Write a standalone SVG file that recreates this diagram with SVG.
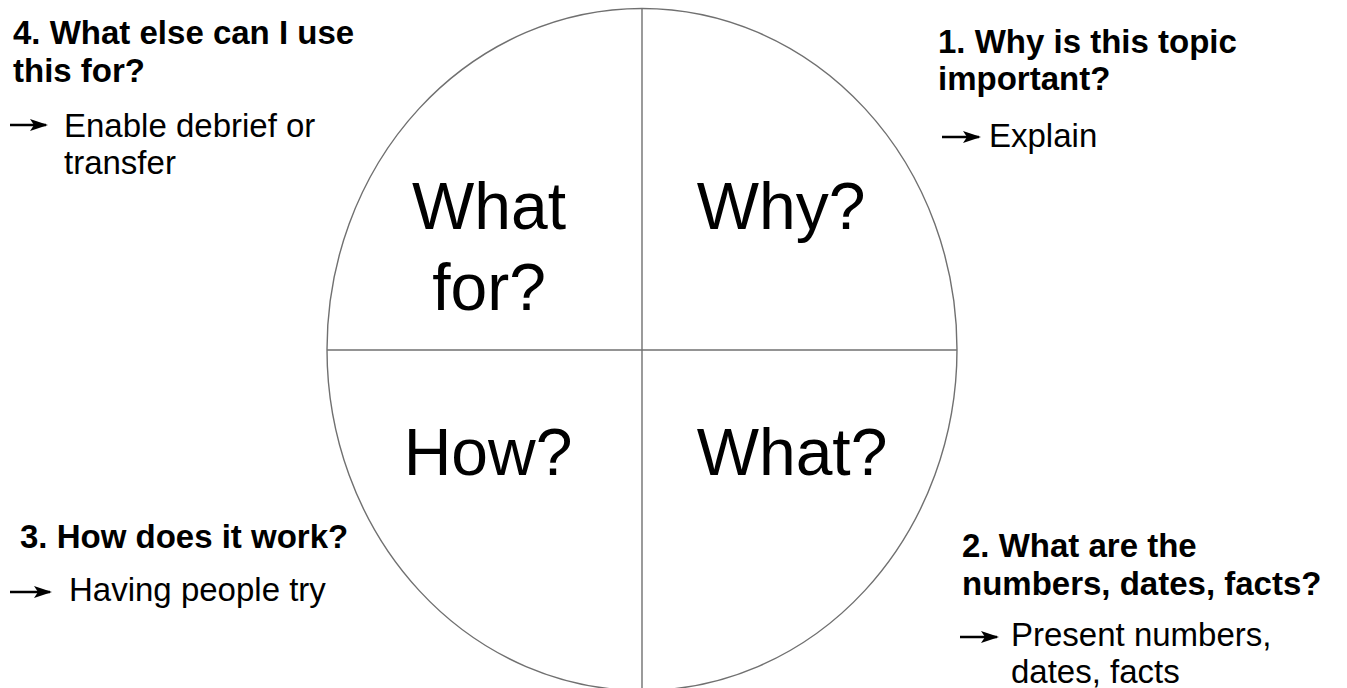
<svg xmlns="http://www.w3.org/2000/svg" width="1347" height="688" viewBox="0 0 1347 688">
  <style>
    .frame { fill: none; stroke: #707070; stroke-width: 1.4; }
    .big { font-family: "Liberation Sans", Arial, sans-serif; font-size: 66px; fill: #000; text-anchor: middle; }
    .head { font-family: "Liberation Sans", Arial, sans-serif; font-size: 33px; font-weight: bold; fill: #000; }
    .body { font-family: "Liberation Sans", Arial, sans-serif; font-size: 33px; fill: #000; }
    .pointer { stroke: #000; stroke-width: 2.4; marker-end: url(#head); }
  </style>
  <defs>
    <marker id="head" viewBox="0 0 18 12" refX="16" refY="6" markerWidth="18" markerHeight="12" markerUnits="userSpaceOnUse" orient="auto">
      <path d="M0,0 L18,6 L0,12 L4,6 Z" fill="#000"/>
    </marker>
  </defs>
  <rect width="1347" height="688" fill="#fff"/>

  <!-- quadrant wheel -->
  <g id="wheel">
    <ellipse class="frame" cx="642" cy="349.5" rx="315" ry="341"/>
    <line class="frame" x1="642" y1="9" x2="642" y2="688"/>
    <line class="frame" x1="327" y1="350" x2="957" y2="350"/>
  </g>

  <g id="q-whatfor">
    <text class="big" x="489" y="229">What</text>
    <text class="big" x="489" y="310">for?</text>
  </g>
  <g id="q-why">
    <text class="big" x="781" y="229">Why?</text>
  </g>
  <g id="q-how">
    <text class="big" x="488" y="475">How?</text>
  </g>
  <g id="q-what">
    <text class="big" x="792" y="475">What?</text>
  </g>

  <!-- step notes -->
  <g id="note-4">
    <text class="head" x="13" y="44">4. What else can I use</text>
    <text class="head" x="13" y="82">this for?</text>
    <text class="body" x="64" y="137">Enable debrief or</text>
    <text class="body" x="64" y="174">transfer</text>
  </g>
  <g id="note-1">
    <text class="head" x="938" y="53">1. Why is this topic</text>
    <text class="head" x="938" y="90">important?</text>
    <text class="body" x="989" y="147">Explain</text>
  </g>
  <g id="note-3">
    <text class="head" x="20" y="548">3. How does it work?</text>
    <text class="body" x="69" y="601">Having people try</text>
  </g>
  <g id="note-2">
    <text class="head" x="962" y="557">2. What are the</text>
    <text class="head" x="962" y="595">numbers, dates, facts?</text>
    <text class="body" x="1011" y="646">Present numbers,</text>
    <text class="body" x="1011" y="683">dates, facts</text>
  </g>

  <!-- bullet arrows -->
  <g id="connectors">
    <line class="pointer" x1="10" y1="125" x2="46" y2="125"/>
    <line class="pointer" x1="942" y1="137" x2="979" y2="137"/>
    <line class="pointer" x1="10" y1="592" x2="50" y2="592"/>
    <line class="pointer" x1="960" y1="637" x2="997" y2="637"/>
  </g>
</svg>
